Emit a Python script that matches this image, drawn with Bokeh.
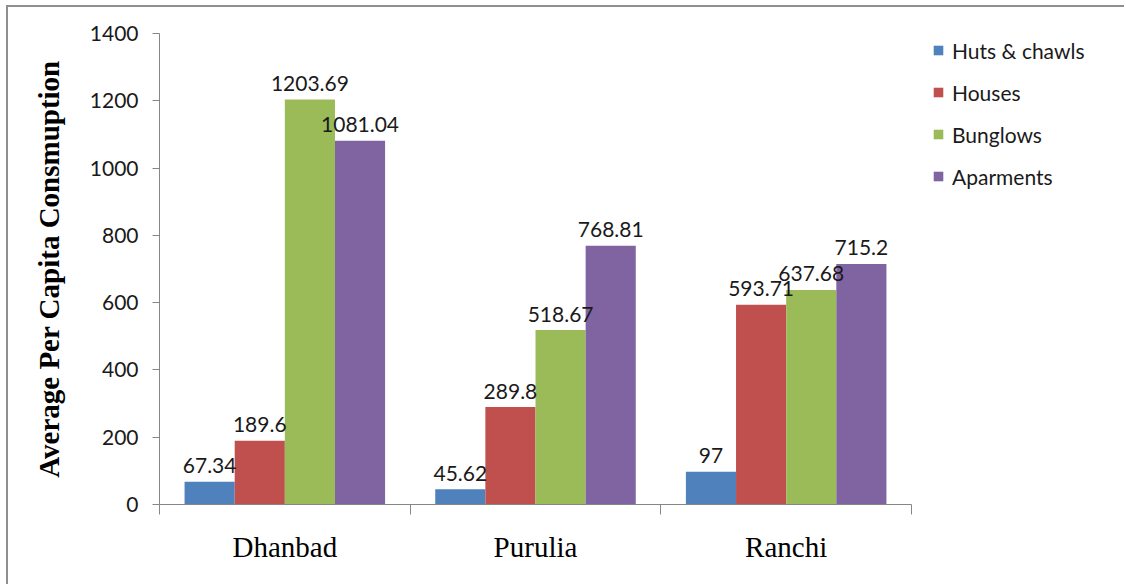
from bokeh.plotting import figure
from bokeh.models import Range1d, FixedTicker, ColumnDataSource, Legend, LegendItem
from bokeh.core.properties import value
from bokeh.embed import file_html
from bokeh.resources import INLINE

# Average per capita consumption by dwelling type in three districts
cities = ["Dhanbad", "Purulia", "Ranchi"]
series_names = ["Huts & chawls", "Houses", "Bunglows", "Aparments"]
huts = [67.34, 45.62, 97]
houses = [189.6, 289.8, 593.71]
bunglows = [1203.69, 518.67, 637.68]
apartments = [1081.04, 768.81, 715.2]
y_ticks = [0, 200, 400, 600, 800, 1000, 1200, 1400]

colors = ["#4F81BD", "#C0504D", "#9BBB59", "#8064A2"]
offsets = [-0.3, -0.1, 0.1, 0.3]
axis_gray = "#868686"
text_color = "#1a1a1a"

n = len(cities)
# plot area runs to the right edge so the legend sits inside it;
# the category axis itself only spans [0, n]
x_end = n * 967 / 752

p = figure(width=1118, height=579, output_backend="svg", toolbar_location=None,
           x_range=Range1d(0, x_end), y_range=Range1d(0, 1400),
           min_border_left=151, min_border_right=0,
           min_border_top=26, min_border_bottom=82)
# chart-area frame: grey rule along the top and left edges
p.styles = {"border-top": "2px solid #8f8f8f", "border-left": "2px solid #8f8f8f",
            "margin-left": "6px", "margin-top": "5px"}
p.background_fill_color = "white"
p.border_fill_color = "white"
p.outline_line_color = None
p.xgrid.visible = False
p.ygrid.visible = False

items = []
sources = []
for name, vals, color, off in zip(series_names, [huts, houses, bunglows, apartments], colors, offsets):
    xs = [i + 0.5 + off for i in range(n)]
    src = ColumnDataSource(dict(x=xs, top=vals, label=[f"{v:g}" for v in vals]))
    sources.append(src)
    r = p.vbar(x="x", top="top", width=0.2, bottom=0, source=src,
               fill_color=color, line_color=None)
    items.append(LegendItem(label=name, renderers=[r]))

# value labels drawn over all bars
for src in sources:
    p.text(x="x", y="top", text="label", source=src, text_align="center",
           text_baseline="alphabetic", y_offset=-16, text_color=text_color,
           text_font=value("Lato"), text_font_size="21px", level="overlay")

# y axis
p.yaxis.ticker = FixedTicker(ticks=y_ticks, minor_ticks=[])
p.yaxis.axis_line_color = axis_gray
p.yaxis.major_tick_line_color = axis_gray
p.yaxis.major_tick_out = 7
p.yaxis.major_tick_in = 0
p.yaxis.major_label_standoff = 14
p.yaxis.major_label_text_font = "Lato"
p.yaxis.major_label_text_font_size = "21px"
p.yaxis.major_label_text_color = text_color
p.yaxis.axis_label = "Average Per Capita Consmuption"
p.yaxis.axis_label_text_font = "Liberation Serif"
p.yaxis.axis_label_text_font_style = "bold"
p.yaxis.axis_label_text_font_size = "29px"
p.yaxis.axis_label_text_color = "black"
p.yaxis.axis_label_standoff = 22

# x axis: category names centred, ticks on the category boundaries
p.xaxis.bounds = (0, n)
p.xaxis.ticker = FixedTicker(ticks=[i + 0.5 for i in range(n)],
                             minor_ticks=list(range(n + 1)))
p.xaxis.major_label_overrides = {i + 0.5: c for i, c in enumerate(cities)}
p.xaxis.axis_line_color = axis_gray
p.xaxis.major_tick_line_color = None
p.xaxis.major_tick_out = 0
p.xaxis.major_tick_in = 0
p.xaxis.minor_tick_line_color = axis_gray
p.xaxis.minor_tick_out = 10
p.xaxis.minor_tick_in = 0
p.xaxis.major_label_standoff = 16
p.xaxis.major_label_text_font = "Liberation Serif"
p.xaxis.major_label_text_font_size = "29px"
p.xaxis.major_label_text_color = "black"

# legend to the right of the bars
lg = Legend(items=items, location=(773, 315))
lg.border_line_color = None
lg.background_fill_alpha = 0
lg.padding = 0
lg.margin = 0
lg.glyph_width = 12
lg.glyph_height = 12
lg.label_height = 26
lg.spacing = 16
lg.label_standoff = 8
lg.label_text_font = "Lato"
lg.label_text_font_size = "21px"
lg.label_text_color = text_color
p.add_layout(lg, "center")

open("out.html", "w").write(file_html(p, INLINE))
